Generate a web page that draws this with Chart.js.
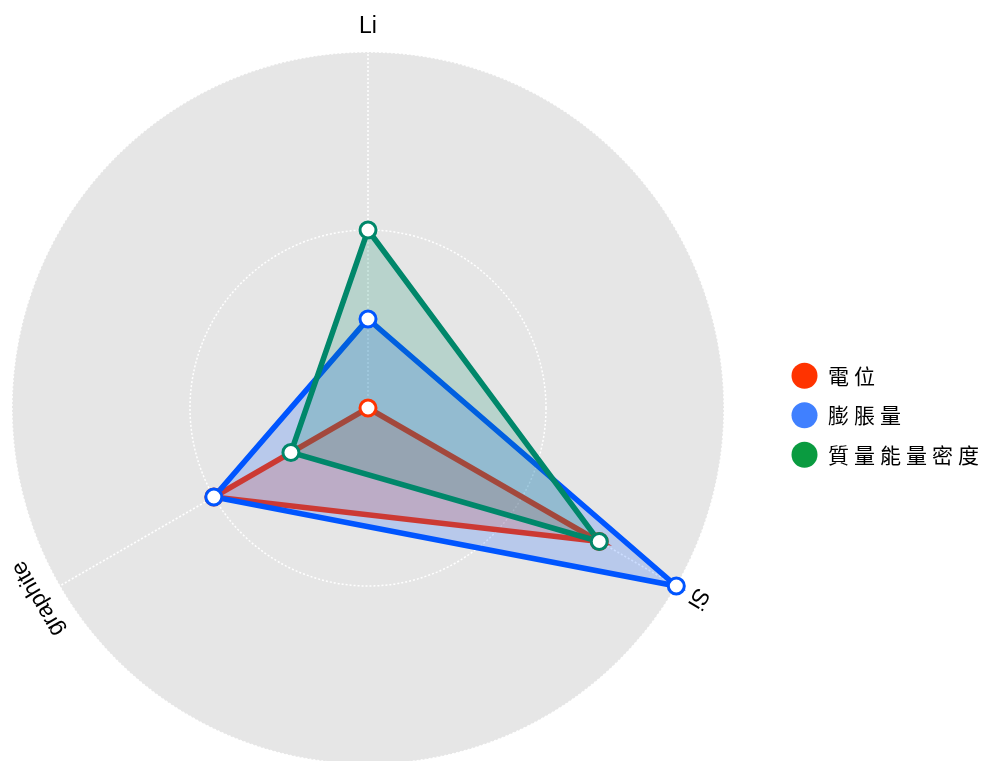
<!DOCTYPE html>
<html>
<head>
<meta charset="utf-8">
<script src="https://cdn.jsdelivr.net/npm/chart.js@4"></script>
<style>
  html, body { margin: 0; padding: 0; background: #fff; }
  #wrap { position: relative; width: 983px; height: 761px; overflow: hidden; }
  /* the circle runs past the left and bottom edges, so the canvas is a bit bigger */
  #radar { position: absolute; left: -42px; top: 0; }
</style>
</head>
<body>
<div id="wrap"><canvas id="radar" width="1036" height="764"></canvas></div>
<script>
/* ------------------------------
   radar - electrode materials
   ------------------------------ */

// axes, clockwise from the top
const axisLabels = ['Li', 'Si', 'graphite'];
const seriesNames = ['電位', '膨脹量', '質量能量密度'];

// values per axis (Li, Si, graphite)
const potential = [0, 0.75, 0.5];
const expansion = [0.25, 1, 0.5];
const energyDensity = [0.5, 0.75, 0.25];

// radial grid
const scaleTicks = [0, 0.5, 1];

const lineColors = ['#ff3300', '#0055ff', '#00876a'];
const fillColors = ['rgba(255,51,0,0.2)', 'rgba(0,85,255,0.2)', 'rgba(0,135,100,0.2)'];
const legendColors = ['#ff3300', '#4080ff', '#0a9b40'];

const seriesData = [potential, expansion, energyDensity];

// filled polygons: first series at the bottom
const areaSets = seriesData.map((data, i) => ({
    label: seriesNames[i],
    data: data,
    borderColor: lineColors[i],
    backgroundColor: fillColors[i],
    borderWidth: 5.5,
    fill: true,
    pointRadius: 0,
    order: 3 - i
}));

// markers go on top of every polygon
const pointSets = seriesData.map((data, i) => ({
    label: seriesNames[i],
    data: data,
    showLine: false,
    fill: false,
    pointRadius: 8,
    pointBorderWidth: 3,
    pointBackgroundColor: '#ffffff',
    pointBorderColor: lineColors[i],
    order: -1 - i
}));

// legend text is spaced out a bit
const legendSpacing = {
    id: 'legendSpacing',
    beforeLayout(chart) { chart.ctx.letterSpacing = '5px'; },
    beforeDraw(chart) { chart.ctx.letterSpacing = '5px'; }
};

// axis names turned along the circle
const rotatedAxisLabels = {
    id: 'rotatedAxisLabels',
    afterDraw(chart) {
        const scale = chart.scales.r;
        const ctx = chart.ctx;
        ctx.save();
        ctx.letterSpacing = '0px';
        ctx.font = '23px "Liberation Sans", Arial, sans-serif';
        ctx.fillStyle = '#000';
        ctx.textAlign = 'center';
        ctx.textBaseline = 'middle';
        axisLabels.forEach((label, i) => {
            const p = scale.getPointPosition(i, scale.drawingArea + 25);
            ctx.save();
            ctx.translate(p.x, p.y);
            ctx.rotate(p.angle + Math.PI / 2);
            ctx.fillText(label, 0, 0);
            ctx.restore();
        });
        ctx.restore();
    }
};

const ctx = document.getElementById('radar').getContext('2d');
const radarChart = new Chart(ctx, {
    type: 'radar',
    data: {
        labels: axisLabels,
        datasets: areaSets.concat(pointSets)
    },
    options: {
        responsive: false,
        animation: false,
        events: [],
        layout: { padding: { left: 0, right: 0, top: 52, bottom: 0 } },
        scales: {
            r: {
                min: scaleTicks[0],
                max: scaleTicks[scaleTicks.length - 1],
                backgroundColor: '#e6e6e6',
                ticks: { display: false, stepSize: scaleTicks[1] - scaleTicks[0] },
                pointLabels: { display: false },
                grid: { circular: true, color: '#ffffff', lineWidth: 1.5 },
                border: { dash: [2, 2] },
                angleLines: { color: '#ffffff', lineWidth: 1.5, borderDash: [2, 2] }
            }
        },
        plugins: {
            tooltip: { enabled: false },
            legend: {
                position: 'right',
                title: { display: true, text: ' ', font: { size: 8 }, padding: { top: 0, bottom: 5 } },
                labels: {
                    boxWidth: 26,
                    boxHeight: 26,
                    padding: 13.5,
                    color: '#000',
                    font: { size: 21, family: '"Noto Sans CJK TC", "Noto Sans CJK JP", sans-serif' },
                    generateLabels: () => seriesNames.map((name, i) => ({
                        text: name,
                        fillStyle: legendColors[i],
                        strokeStyle: legendColors[i],
                        fontColor: '#000',
                        lineWidth: 0,
                        borderRadius: 13,
                        datasetIndex: i,
                        hidden: false
                    }))
                }
            }
        }
    },
    plugins: [legendSpacing, rotatedAxisLabels]
});
</script>
</body>
</html>
